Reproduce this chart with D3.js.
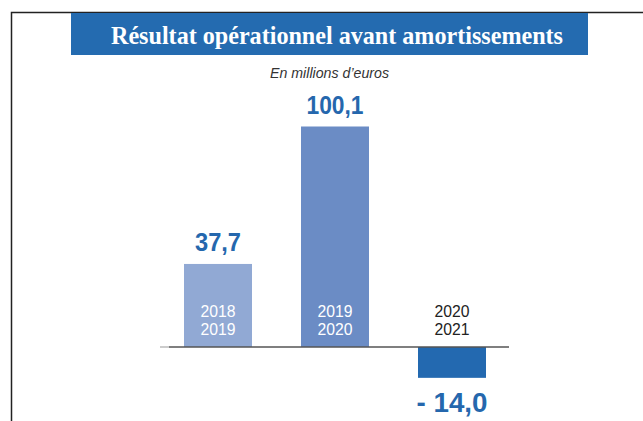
<!DOCTYPE html>
<html>
<head>
<meta charset="utf-8">
<script src="https://cdn.jsdelivr.net/npm/d3@7"></script>
<style>
  body { margin: 0; background: #fff; }
  svg { display: block; }
</style>
</head>
<body>
<script>
// chart data
var periods = ["2018|2019", "2019|2020", "2020|2021"];
var values = [37.7, 100.1, -14.0];
var valueLabels = ["37,7", "100,1", "- 14,0"];
var barColors = ["#91a9d4", "#6b8cc5", "#2369b0"];

var titleText = "Résultat opérationnel avant amortissements";
var subtitleText = "En millions d\u2019euros";

var width = 643,
	height = 421;

var svg = d3.select("body").append("svg")
	.attr("width", width)
	.attr("height", height);

// Narrow sans isn't around, so squeeze Liberation Sans with textLength
var sans = "'Liberation Sans', Arial, sans-serif";
var labelWidths = [46, 57, 71];

// frame lines (top and left)
svg.append("path")
	.attr("d", "M11.5,421 L11.5,12.5 L643,12.5")
	.attr("fill", "none")
	.attr("stroke", "#222")
	.attr("stroke-width", 1.5);

// title banner
svg.append("rect")
	.attr("x", 71)
	.attr("y", 13)
	.attr("width", 517)
	.attr("height", 42)
	.attr("fill", "#246bb0");

svg.append("text")
	.attr("x", 337)
	.attr("y", 44)
	.attr("text-anchor", "middle")
	.attr("font-family", "'Liberation Serif', 'DejaVu Serif', serif")
	.attr("font-weight", "bold")
	.attr("font-size", 26)
	.attr("fill", "#fff")
	.attr("textLength", 452)
	.attr("lengthAdjust", "spacingAndGlyphs")
	.text(titleText);

svg.append("text")
	.attr("x", 329.5)
	.attr("y", 78)
	.attr("text-anchor", "middle")
	.attr("font-family", sans)
	.attr("font-style", "italic")
	.attr("font-size", 15)
	.attr("fill", "#333")
	.attr("textLength", 119)
	.attr("lengthAdjust", "spacingAndGlyphs")
	.text(subtitleText);

// scales
var xScale = d3.scaleBand()
	.domain(periods)
	.range([184, 486])
	.paddingInner(49 / 117)
	.paddingOuter(0);

var yScale = d3.scaleLinear()
	.domain([0, 100.1])
	.range([347, 126.5]);

var data = periods.map(function(p, i) {
	return { period: p, value: values[i], label: valueLabels[i], color: barColors[i], w: labelWidths[i] };
});

// bars
svg.selectAll("rect.bar")
	.data(data)
	.enter()
	.append("rect")
	.attr("class", "bar")
	.attr("x", function(d) { return xScale(d.period); })
	.attr("y", function(d) { return yScale(Math.max(0, d.value)); })
	.attr("width", xScale.bandwidth())
	.attr("height", function(d) { return Math.abs(yScale(d.value) - yScale(0)); })
	.attr("fill", function(d) { return d.color; });

// baseline
svg.append("line")
	.attr("x1", 160)
	.attr("x2", 169)
	.attr("y1", yScale(0))
	.attr("y2", yScale(0))
	.attr("stroke", "#bbb")
	.attr("stroke-width", 1.5);
svg.append("line")
	.attr("x1", 169)
	.attr("x2", 509)
	.attr("y1", yScale(0))
	.attr("y2", yScale(0))
	.attr("stroke", "#555")
	.attr("stroke-width", 1.5);

// value labels
svg.selectAll("text.value")
	.data(data)
	.enter()
	.append("text")
	.attr("class", "value")
	.attr("x", function(d) { return xScale(d.period) + xScale.bandwidth() / 2; })
	.attr("y", function(d) { return d.value >= 0 ? yScale(d.value) - 12.5 : yScale(d.value) + 34; })
	.attr("text-anchor", "middle")
	.attr("font-family", sans)
	.attr("font-weight", "bold")
	.attr("font-size", function(d) { return d.value >= 0 ? 25.5 : 28; })
	.attr("fill", "#2567ad")
	.attr("textLength", function(d) { return d.w; })
	.attr("lengthAdjust", "spacingAndGlyphs")
	.text(function(d) { return d.label; });

// period labels
var periodLabels = svg.selectAll("text.period")
	.data(data)
	.enter()
	.append("text")
	.attr("class", "period")
	.attr("text-anchor", "middle")
	.attr("font-family", sans)
	.attr("font-size", 16)
	.attr("fill", function(d) { return d.value >= 0 ? "#fff" : "#222"; });

periodLabels.selectAll("tspan")
	.data(function(d) {
		var cx = xScale(d.period) + xScale.bandwidth() / 2;
		return d.period.split("|").map(function(s) { return { s: s, cx: cx }; });
	})
	.enter()
	.append("tspan")
	.attr("x", function(d) { return d.cx; })
	.attr("y", function(d, i) { return 317 + i * 18; })
	.attr("textLength", 35)
	.attr("lengthAdjust", "spacingAndGlyphs")
	.text(function(d) { return d.s; });
</script>
</body>
</html>
